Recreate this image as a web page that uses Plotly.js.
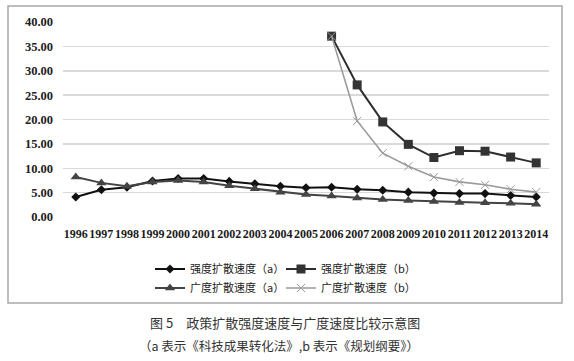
<!DOCTYPE html>
<html>
<head>
<meta charset="utf-8">
<script src="https://cdn.plot.ly/plotly-3.0.1.min.js"></script>
<style>
html,body{margin:0;padding:0;background:#fff;}
#chart{width:574px;height:361px;}
</style>
</head>
<body>
<div id="chart"></div>
<script>
const years = ["1996","1997","1998","1999","2000","2001","2002","2003","2004","2005","2006","2007","2008","2009","2010","2011","2012","2013","2014"];
const intensityA = [4.1,5.6,6.1,7.4,7.9,7.9,7.3,6.8,6.3,6.0,6.1,5.7,5.5,5.1,4.9,4.8,4.8,4.4,4.1];
const intensityB = [null,null,null,null,null,null,null,null,null,null,37.1,27.1,19.5,14.9,12.2,13.6,13.5,12.3,11.1];
const breadthA = [8.2,7.0,6.3,7.2,7.5,7.2,6.4,5.8,5.1,4.6,4.3,3.9,3.6,3.4,3.2,3.0,2.9,2.8,2.6];
const breadthB = [null,null,null,null,null,null,null,null,null,null,37.1,19.7,13.1,10.4,8.2,7.2,6.6,5.7,5.1];
const seriesNames = ["强度扩散速度（a）","强度扩散速度（b）","广度扩散速度（a）","广度扩散速度（b）"];
const yTicks = [0,5,10,15,20,25,30,35,40];
const yTickText = ["0.00","5.00","10.00","15.00","20.00","25.00","30.00","35.00","40.00"];
const captionLine1 = "图 5　政策扩散强度速度与广度速度比较示意图";
const captionLine2 = "（a 表示《科技成果转化法》,b 表示《规划纲要》）";

// pixel geometry helpers (plot area 63..549 x, 22..217 y)
const L = 63, R = 549, T = 22, B = 217;
const px = v => (v - L) / (R - L);
const py = v => (B - v) / (B - T);

const traces = [
  {x: years, y: intensityA, name: seriesNames[0], type: 'scatter', mode: 'lines+markers', legend: 'legend',
   line: {color: '#111111', width: 2}, marker: {symbol: 'diamond', size: 7, color: '#111111'}},
  {x: years, y: intensityB, name: seriesNames[1], type: 'scatter', mode: 'lines+markers', legend: 'legend',
   line: {color: '#2e2e2e', width: 2}, marker: {symbol: 'square', size: 9, color: '#333333'}},
  {x: years, y: breadthA, name: seriesNames[2], type: 'scatter', mode: 'lines+markers', legend: 'legend2',
   line: {color: '#444444', width: 2}, marker: {symbol: 'triangle-up', size: 9, color: '#444444'}},
  {x: years, y: breadthB, name: seriesNames[3], type: 'scatter', mode: 'lines+markers', legend: 'legend2',
   line: {color: '#9a9a9a', width: 1.6}, marker: {symbol: 'x-thin-open', size: 8, color: '#9a9a9a', line: {color: '#9a9a9a', width: 1}}}
];

const legendBase = {
  orientation: 'h', x: px(150), xanchor: 'left', yanchor: 'middle',
  entrywidth: 86, entrywidthmode: 'pixels', itemwidth: 30, tracegroupgap: 0,
  font: {family: '"Noto Sans CJK SC", sans-serif', size: 11, color: '#222'},
  bgcolor: 'rgba(0,0,0,0)'
};

const layout = {
  width: 574, height: 361,
  margin: {l: L, r: 574 - R, t: T, b: 361 - B},
  paper_bgcolor: '#ffffff', plot_bgcolor: '#ffffff',
  showlegend: true,
  font: {family: '"Liberation Serif", serif', color: '#111'},
  xaxis: {
    type: 'category', range: [-0.5, years.length - 0.5], tickangle: 0, showgrid: false, zeroline: false, showline: false,
    ticks: '', ticklabelstandoff: 8,
    tickfont: {family: '"Liberation Serif", serif', size: 12, weight: 'bold', color: '#1a1a1a'}
  },
  yaxis: {
    range: [0, 40], tickvals: yTicks, ticktext: yTickText, showgrid: true,
    gridcolor: '#d9d9d9', gridwidth: 1.5, zeroline: false, showline: false, ticks: '',
    ticklabelstandoff: 9,
    tickfont: {family: '"Liberation Serif", serif', size: 12.5, weight: 'bold', color: '#222'}
  },
  legend: Object.assign({}, legendBase, {y: py(269)}),
  legend2: Object.assign({}, legendBase, {y: py(288)}),
  shapes: [
    {type: 'rect', xref: 'paper', yref: 'paper', x0: px(8), x1: px(562), y0: py(303), y1: py(6),
     line: {color: '#a8a8a8', width: 1.5}, fillcolor: 'rgba(0,0,0,0)', layer: 'below'}
  ],
  annotations: [
    {text: captionLine1, xref: 'paper', yref: 'paper', x: px(285), y: py(322), xanchor: 'center', yanchor: 'middle',
     showarrow: false, font: {family: '"Noto Sans CJK SC", sans-serif', size: 13, color: '#333'}},
    {text: captionLine2, xref: 'paper', yref: 'paper', x: px(279), y: py(345), xanchor: 'center', yanchor: 'middle',
     showarrow: false, font: {family: '"Noto Sans CJK SC", sans-serif', size: 12.5, color: '#333'}}
  ]
};

Plotly.newPlot('chart', traces, layout, {staticPlot: true, displayModeBar: false});
</script>
</body>
</html>
